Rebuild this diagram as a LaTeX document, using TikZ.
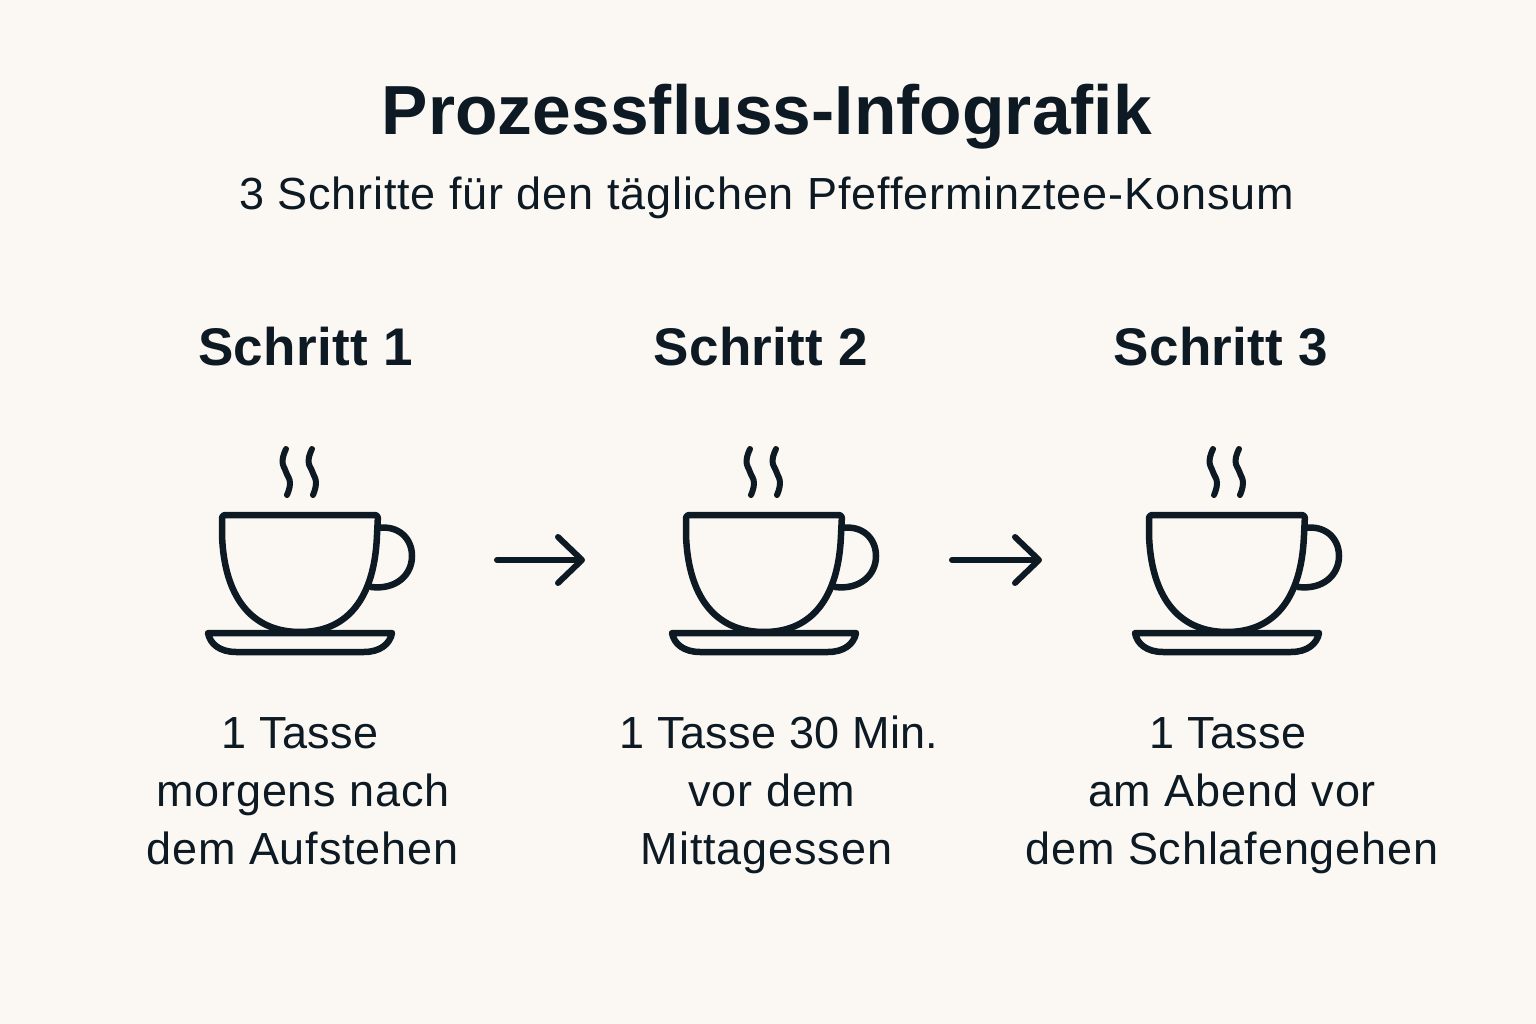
\documentclass[tikz,border=0pt]{standalone}
\usepackage{fontspec}
\usetikzlibrary{arrows.meta}
\setmainfont{Liberation Sans}
\newfontfamily\regfont[LetterSpace=1.9]{Liberation Sans}
\newfontfamily\bodyfont[LetterSpace=1.9]{Liberation Sans}
\newfontfamily\firstfont[LetterSpace=0.7]{Liberation Sans}
\newfontfamily\boldfont[LetterSpace=0.1]{Liberation Sans Bold}
\newfontfamily\headfont[LetterSpace=0.6]{Liberation Sans Bold}
\definecolor{ink}{HTML}{0D1A24}
\definecolor{paper}{HTML}{FBF8F3}
\tikzset{
  every node/.style={inner sep=0pt,outer sep=0pt,text=ink,anchor=base},
  titletext/.style={font=\boldfont\fontsize{69.5}{70}\selectfont},
  subtext/.style={font=\regfont\fontsize{45}{45}\selectfont},
  headtext/.style={font=\headfont\fontsize{53}{53}\selectfont},
  bodytext/.style={font=\bodyfont\fontsize{45}{45}\selectfont},
  firsttext/.style={font=\firstfont\fontsize{45}{45}\selectfont},
  cupline/.style={draw=ink,line width=6.5pt,line cap=round,line join=round},
  steamline/.style={draw=ink,line width=6pt,line cap=round,line join=round},
  flowarrow/.style={draw=ink,line width=6pt,line cap=round,-{Straight Barb[length=24pt,width=46pt,round,line width=6pt]}},
  pics/cup/.style={code={
    % handle
    \draw[cupline] (378,528) .. controls (398,525) and (412,538) .. (412,556)
      .. controls (412,575) and (396,590) .. (371,587);
    % bowl
    \draw[cupline,rounded corners=3pt] (222,515) -- (378,515) -- (377,535)
      [sharp corners] .. controls (374,595) and (350,632) .. (300,632)
      .. controls (250,632) and (224,595) .. (222,535) [rounded corners=3pt] -- cycle;
    % saucer
    \draw[cupline] (208,633) -- (392,633) .. controls (390,644) and (380,652) .. (364,652)
      -- (236,652) .. controls (220,652) and (210,644) .. (208,633) -- cycle;
    % steam
    \draw[steamline] plot[smooth,tension=0.8] coordinates {(286,449) (282.5,461) (286,472) (290,483) (287,495)};
    \draw[steamline] plot[smooth,tension=0.8] coordinates {(312,449) (308.5,461) (312.5,472) (316,483) (313,495)};
  }}
}
\begin{document}
\begin{tikzpicture}[x=1pt,y=-1pt]
\useasboundingbox[fill=paper] (0,0) rectangle (1536,1024);
\node[titletext] (title) at (767,135) {Prozessfluss-Infografik};
\node[subtext] (sub) at (766.5,210) {3 Schritte für den täglichen Pfefferminztee-Konsum};
\node[headtext] (h1) at (305.5,365.5) {Schritt 1};
\node[headtext] (h2) at (761,365.5) {Schritt 2};
\node[headtext] (h3) at (1221,365.5) {Schritt 3};
\pic at (0,0) {cup};
\pic at (464,0) {cup};
\pic at (927,0) {cup};
\coordinate (a1s) at (497,560);
\coordinate (a1e) at (585,560);
\coordinate (a2s) at (952,560);
\coordinate (a2e) at (1042,560);
\draw[flowarrow] (a1s) -- (a1e);
\draw[flowarrow] (a2s) -- (a2e);
\node[firsttext] (b11) at (300,748) {1 Tasse};
\node[bodytext] (b12) at (303,806) {morgens nach};
\node[bodytext] (b13) at (302.5,864) {dem Aufstehen};
\node[firsttext] (b21) at (779,748) {1 Tasse 30 Min.};
\node[bodytext] (b22) at (772,806) {vor dem};
\node[bodytext] (b23) at (766.5,864) {Mittagessen};
\node[firsttext] (b31) at (1228,748) {1 Tasse};
\node[bodytext] (b32) at (1232,806) {am Abend vor};
\node[bodytext] (b33) at (1232,864) {dem Schlafengehen};
\end{tikzpicture}
\end{document}
